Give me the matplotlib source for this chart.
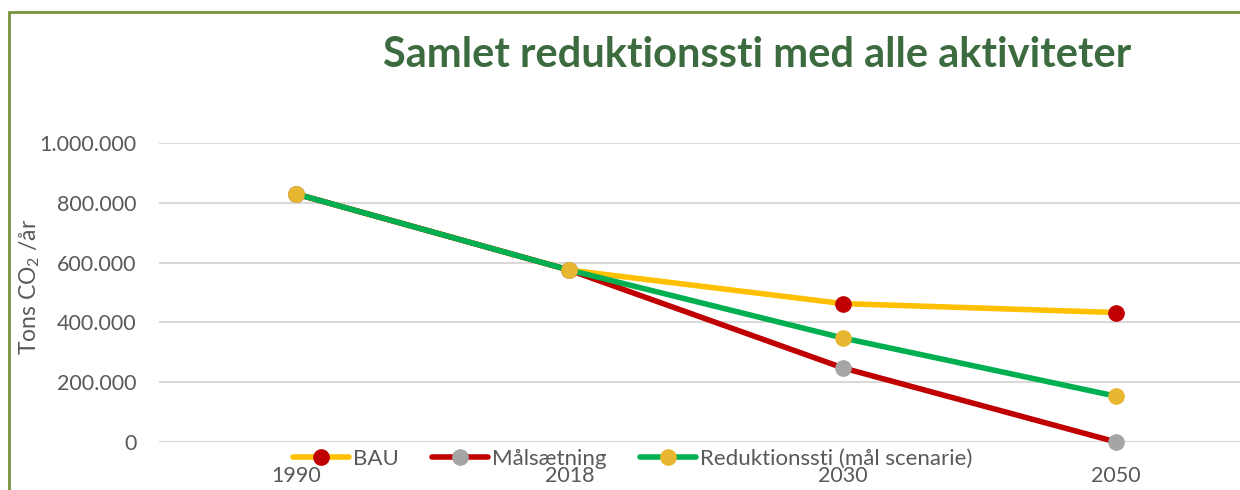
import matplotlib.pyplot as plt
from matplotlib.lines import Line2D
from matplotlib.patches import Rectangle
from matplotlib.ticker import FuncFormatter

years = ["1990", "2018", "2030", "2050"]
bau = [830000, 575000, 463000, 433000]
maalsaetning = [830000, 575000, 248000, 0]
reduktionssti = [830000, 575000, 348000, 153000]
series_names = ["BAU", "Målsætning", "Reduktionssti (mål scenarie)"]

plt.rcParams["font.family"] = ["Lato", "DejaVu Sans"]
text_color = "#595959"

fig = plt.figure(figsize=(12.4, 4.9), dpi=100)
ax = fig.add_axes([159 / 1240, 1 - 442 / 490, (1253 - 159) / 1240, 299 / 490])

x = range(len(years))
styles = [
    (bau, "#FFC000", "#C00000"),
    (maalsaetning, "#C00000", "#A5A5A5"),
    (reduktionssti, "#00B050", "#E8B731"),
]
handles = []
for (vals, lc, mc), name in zip(styles, series_names):
    ax.plot(x, vals, color=lc, lw=4, marker="o", ms=11, mfc=mc, mec=mc,
            solid_capstyle="round", zorder=3, clip_on=False)
    handles.append(Line2D([], [], color=lc, lw=4, marker="o", ms=11, mfc=mc, mec=mc,
                          solid_capstyle="round"))

ax.set_xlim(-0.5, len(years) - 0.5)
ax.set_ylim(0, 1000000)
ax.set_yticks(range(0, 1000001, 200000))
ax.yaxis.set_major_formatter(FuncFormatter(lambda v, p: f"{int(v):,}".replace(",", ".")))
ax.set_xticks(list(x))
ax.set_xticklabels(years)
ax.grid(axis="y", color="#D9D9D9", lw=1.5, zorder=0)
ax.set_axisbelow(True)
for s in ax.spines.values():
    s.set_visible(False)
ax.tick_params(axis="both", length=0, colors=text_color, labelsize=15.5)
ax.tick_params(axis="x", pad=17)
ax.tick_params(axis="y", pad=16)

fig.text(30 / 1240, 1 - 287 / 490, "Tons CO$_{\\mathregular{2}}$ /år", rotation=90,
         ha="center", va="center", color=text_color, fontsize=16.5)

fig.text(757 / 1240, 1 - 55 / 490, "Samlet reduktionssti med alle aktiviteter",
         ha="center", va="center", fontsize=30, fontweight="bold", color="#3D6B40")

fig.legend(handles=handles, labels=series_names, ncol=3, frameon=False,
           loc="center left", bbox_to_anchor=(293 / 1240, 1 - 459 / 490),
           fontsize=16, labelcolor=text_color, handlelength=2.5,
           handletextpad=0.2, columnspacing=1.5, borderaxespad=0, borderpad=0)

# olive frame around the chart area
fig.add_artist(Rectangle((9 / 1240, -0.1), 1.1, 1 - 12 / 490 + 0.1, transform=fig.transFigure,
                         fill=False, ec="#77933C", lw=2))

fig.savefig("out.png", dpi=100)
